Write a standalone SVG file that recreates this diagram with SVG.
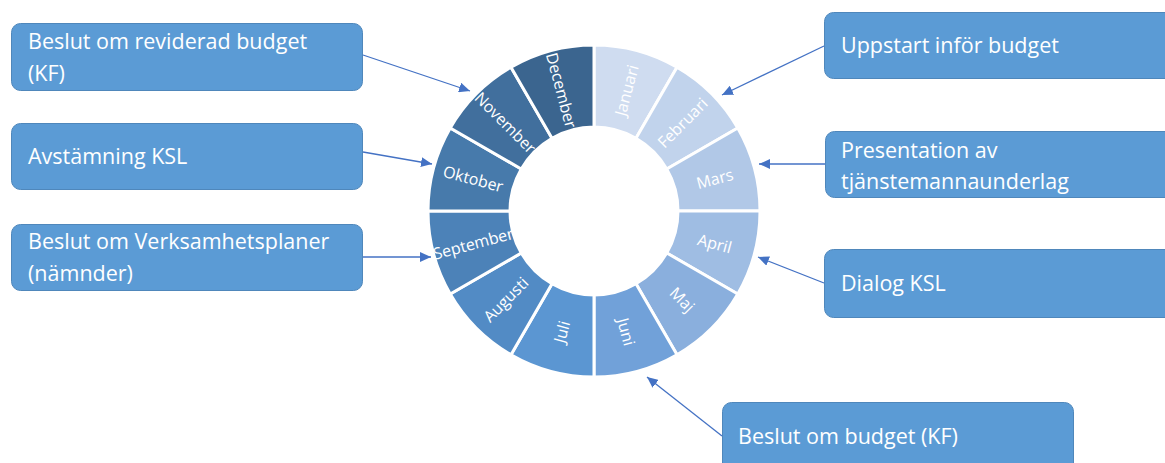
<svg xmlns="http://www.w3.org/2000/svg" width="1165" height="463" viewBox="0 0 1165 463">
<style>
.box{fill:#5b9bd5;stroke:#4f87bb;stroke-width:1}
.bt{font-family:"Open Sans","Liberation Sans",sans-serif;font-size:21.5px;fill:#ffffff}
.seg{stroke:#ffffff;stroke-width:3;stroke-linejoin:miter}
.mt{font-family:"Open Sans","Liberation Sans",sans-serif;font-size:16px;fill:#ffffff;text-anchor:middle;dominant-baseline:central}
.con{stroke:#4472c4;stroke-width:1.3;fill:none;marker-end:url(#ah)}
</style>
<defs>
<marker id="ah" markerUnits="userSpaceOnUse" markerWidth="12" markerHeight="10" refX="11" refY="5" orient="auto">
<path d="M0,0 L11,5 L0,10 z" fill="#4472c4"/>
</marker>
</defs>
<rect width="1165" height="463" fill="#ffffff"/>
<g id="ring">
<g id="m-jan"><path class="seg" fill="#cfdcf0" d="M594,45 A166,166 0 0 1 677,67.24 L636,138.25 A84,84 0 0 0 594,127 Z"/><text class="mt" transform="translate(626.35,90.26) rotate(-75)">Januari</text></g>
<g id="m-feb"><path class="seg" fill="#c1d3ec" d="M677,67.24 A166,166 0 0 1 737.76,128 L666.75,169 A84,84 0 0 0 636,138.25 Z"/><text class="mt" transform="translate(682.39,122.61) rotate(-45)">Februari</text></g>
<g id="m-mar"><path class="seg" fill="#b1c8e7" d="M737.76,128 A166,166 0 0 1 760,211 L678,211 A84,84 0 0 0 666.75,169 Z"/><text class="mt" transform="translate(714.74,178.65) rotate(-15)">Mars</text></g>
<g id="m-apr"><path class="seg" fill="#9fbde3" d="M760,211 A166,166 0 0 1 737.76,294 L666.75,253 A84,84 0 0 0 678,211 Z"/><text class="mt" transform="translate(714.74,243.35) rotate(15)">April</text></g>
<g id="m-maj"><path class="seg" fill="#8aafdd" d="M737.76,294 A166,166 0 0 1 677,354.76 L636,283.75 A84,84 0 0 0 666.75,253 Z"/><text class="mt" transform="translate(682.39,299.39) rotate(45)">Maj</text></g>
<g id="m-jun"><path class="seg" fill="#71a1d9" d="M677,354.76 A166,166 0 0 1 594,377 L594,295 A84,84 0 0 0 636,283.75 Z"/><text class="mt" transform="translate(626.35,331.74) rotate(75)">Juni</text></g>
<g id="m-jul"><path class="seg" fill="#5b96d2" d="M594,377 A166,166 0 0 1 511,354.76 L552,283.75 A84,84 0 0 0 594,295 Z"/><text class="mt" transform="translate(561.65,331.74) rotate(-75)">Juli</text></g>
<g id="m-aug"><path class="seg" fill="#528bc5" d="M511,354.76 A166,166 0 0 1 450.24,294 L521.25,253 A84,84 0 0 0 552,283.75 Z"/><text class="mt" transform="translate(505.61,299.39) rotate(-45)">Augusti</text></g>
<g id="m-sep"><path class="seg" fill="#4c82b8" d="M450.24,294 A166,166 0 0 1 428,211 L510,211 A84,84 0 0 0 521.25,253 Z"/><text class="mt" transform="translate(473.26,243.35) rotate(-15)">September</text></g>
<g id="m-okt"><path class="seg" fill="#477aab" d="M428,211 A166,166 0 0 1 450.24,128 L521.25,169 A84,84 0 0 0 510,211 Z"/><text class="mt" transform="translate(473.26,178.65) rotate(15)">Oktober</text></g>
<g id="m-nov"><path class="seg" fill="#416f9d" d="M450.24,128 A166,166 0 0 1 511,67.24 L552,138.25 A84,84 0 0 0 521.25,169 Z"/><text class="mt" transform="translate(505.61,122.61) rotate(45)">November</text></g>
<g id="m-dec"><path class="seg" fill="#3b658f" d="M511,67.24 A166,166 0 0 1 594,45 L594,127 A84,84 0 0 0 552,138.25 Z"/><text class="mt" transform="translate(561.65,90.26) rotate(75)">December</text></g>
</g>
<g id="connectors">
<line class="con" x1="363" y1="55" x2="470" y2="91"/>
<line class="con" x1="363" y1="152" x2="432" y2="164"/>
<line class="con" x1="363" y1="257" x2="431" y2="257"/>
<line class="con" x1="824" y1="46" x2="722" y2="95"/>
<line class="con" x1="825" y1="164" x2="759" y2="164"/>
<line class="con" x1="824" y1="283" x2="758" y2="257"/>
<line class="con" x1="722" y1="436" x2="647" y2="377"/>
</g>
<g id="n1"><rect class="box" x="11.5" y="23.5" width="351" height="67" rx="9"/><text class="bt" x="28" y="49">Beslut om reviderad budget</text><text class="bt" x="28" y="81">(KF)</text></g>
<g id="n2"><rect class="box" x="11.5" y="123.5" width="351" height="66" rx="9"/><text class="bt" x="28" y="164">Avstämning KSL</text></g>
<g id="n3"><rect class="box" x="11.5" y="224.5" width="351" height="66" rx="9"/><text class="bt" x="28" y="249">Beslut om Verksamhetsplaner</text><text class="bt" x="28" y="281">(nämnder)</text></g>
<g id="n4"><rect class="box" x="824.5" y="12.5" width="360" height="66" rx="9"/><text class="bt" x="841" y="53">Uppstart inför budget</text></g>
<g id="n5"><rect class="box" x="825.5" y="131.5" width="360" height="66" rx="9"/><text class="bt" x="841" y="158">Presentation av</text><text class="bt" x="841" y="189">tjänstemannaunderlag</text></g>
<g id="n6"><rect class="box" x="824.5" y="249.5" width="360" height="68" rx="9"/><text class="bt" x="841" y="291">Dialog KSL</text></g>
<g id="n7"><rect class="box" x="722.5" y="402.5" width="351" height="80" rx="9"/><text class="bt" x="738" y="444">Beslut om budget (KF)</text></g>
</svg>
